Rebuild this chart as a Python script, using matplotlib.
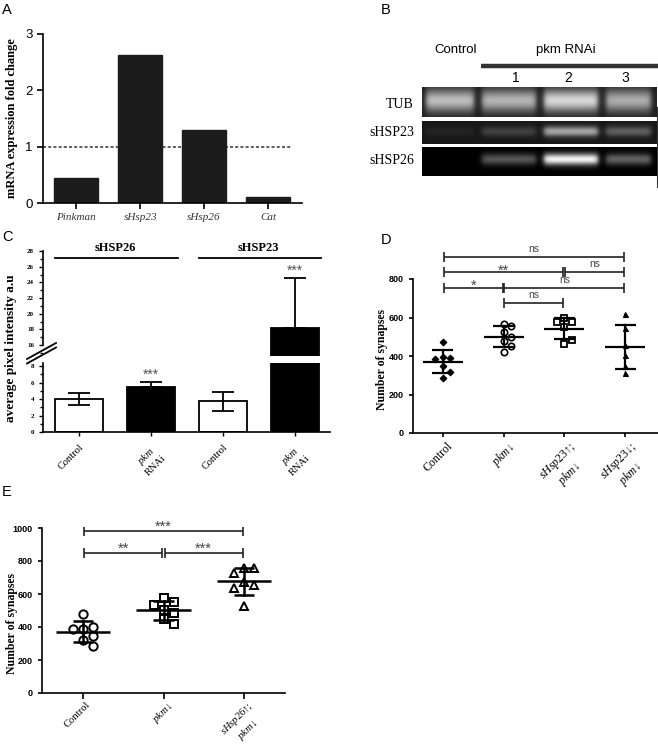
import numpy as np
import matplotlib
matplotlib.use("Agg")
import matplotlib.pyplot as plt
import matplotlib.transforms as mtransforms
from matplotlib.ticker import MultipleLocator

plt.rcParams['font.family'] = ['Liberation Sans', 'DejaVu Sans']
plt.rcParams['mathtext.fontset'] = 'custom'
plt.rcParams['mathtext.rm'] = 'Liberation Serif'
plt.rcParams['mathtext.it'] = 'Liberation Serif:italic'
plt.rcParams['mathtext.bf'] = 'Liberation Serif:bold'
plt.rcParams['axes.linewidth'] = 1.2

SERIF = ['Liberation Serif', 'DejaVu Serif']
W, H = 658, 747

# ---------------- data ----------------
# Panel A
a_genes = ['Pinkman', 'sHsp23', 'sHsp26', 'Cat']
a_fold = [0.45, 2.63, 1.30, 0.10]
a_baseline = 1.0

# Panel B (band intensities per lane, read from gel)
b_lanes = ['Control', '1', '2', '3']
b_rows = ['TUB', 'sHSP23', 'sHSP26']
b_tub = [0.62, 0.58, 0.72, 0.55]
b_hsp23 = [0.05, 0.16, 0.55, 0.28]
b_hsp26 = [0.00, 0.33, 0.95, 0.38]

# Panel C
c_proteins = ['sHSP26', 'sHSP23']
c_labels = ['Control', '$\\mathit{pkm}$\nRNAi', 'Control', '$\\mathit{pkm}$\nRNAi']
c_mean = [4.0, 5.5, 3.75, 18.2]
c_sd = [0.75, 0.6, 1.15, 6.4]
c_stars = ['', '***', '', '***']

# Panel D
d_labels = ['Control', '$\\mathit{pkm}$↓', '$\\mathit{sHsp23}$↑;\n$\\mathit{pkm}$↓',
            '$\\mathit{sHsp23}$↓;\n$\\mathit{pkm}$↓']
d_control = [473, 395, 388, 386, 348, 317, 286]
d_pkm = [566, 556, 526, 499, 478, 453, 421]
d_hsp23_up = [595, 578, 578, 552, 462, 483]
d_hsp23_down = [616, 545, 455, 405, 350, 311]
d_comp_pairs = [(1, 2), (0, 1), (1, 3), (0, 2), (2, 3), (0, 3)]
d_comp_text = ['ns', '*', 'ns', '**', 'ns', 'ns']

# Panel E
e_labels = ['Control', '$\\mathit{pkm}$↓', '$\\mathit{sHsp26}$↑;\n$\\mathit{pkm}$↓']
e_control = [477, 386, 401, 386, 345, 320, 284]
e_pkm = [574, 553, 533, 503, 483, 448, 416]
e_hsp26_up = [760, 755, 728, 672, 655, 638, 525]
e_comp_pairs = [(0, 1), (1, 2), (0, 2)]
e_comp_text = ['**', '***', '***']

# ---------------- helpers ----------------
fig = plt.figure(figsize=(W / 100, H / 100), dpi=100)
fig.patch.set_facecolor('white')


def px_axes(l, t, r, b):
    ax = fig.add_axes([l / W, 1 - b / H, (r - l) / W, (b - t) / H])
    ax.patch.set_alpha(0)
    return ax


def style_axes(ax):
    for s in ('top', 'right'):
        ax.spines[s].set_visible(False)
    ax.tick_params(direction='out', width=1.2)


def swarm_offsets(vals, xpx, ypx, step_px, diam_px):
    placed, offs = [], []
    for v in vals:
        dx = 0
        for k in (0, 1, -1, 2, -2, 3, -3):
            dx = k * step_px
            if all((dx - pdx) ** 2 + ((v - pv) * ypx) ** 2 >= diam_px ** 2 for pdx, pv in placed):
                break
        placed.append((dx, v))
        offs.append(dx / xpx)
    return np.array(offs)


def draw_group(ax, i, vals, marker, ms, mew, filled, mean_hw, cap_hw, lw, xpx, ypx, step_px, diam_px):
    vals = np.asarray(vals, float)
    m, s = vals.mean(), vals.std(ddof=1)
    offs = swarm_offsets(vals, xpx, ypx, step_px, diam_px)
    ax.plot(i + offs, vals, ls='none', marker=marker, ms=ms,
            mfc='black' if filled else 'none', mec='black', mew=mew, zorder=3, clip_on=False)
    ax.plot([i - mean_hw, i + mean_hw], [m, m], color='black', lw=lw, zorder=2, solid_capstyle='butt')
    ax.plot([i, i], [m - s, m + s], color='black', lw=lw, zorder=2)
    for y in (m - s, m + s):
        ax.plot([i - cap_hw, i + cap_hw], [y, y], color='black', lw=lw, zorder=2, solid_capstyle='butt')


def bracket(ax, i, j, y, h, text, fs_ns, fs_star, off_ns, off_star):
    g = 0.015
    x0, x1 = i + g, j - g
    kw = dict(color='#222', lw=1.2, clip_on=False, solid_capstyle='butt')
    ax.plot([x0, x1], [y, y], **kw)
    ax.plot([x0, x0], [y - h, y + h], **kw)
    ax.plot([x1, x1], [y - h, y + h], **kw)
    isns = text == 'ns'
    ax.annotate(text, ((i + j) / 2, y), xytext=(0, off_ns if isns else off_star),
                textcoords='offset points', ha='center', va='bottom',
                fontsize=fs_ns if isns else fs_star, color='#444', annotation_clip=False)


def rot_labels(ax, labels, fs, pad, shift_px=0.0):
    ax.set_xticks(range(len(labels)))
    ax.set_xticklabels(labels, rotation=45, ha='right', va='top', rotation_mode='anchor',
                       multialignment='center', fontsize=fs, family=SERIF)
    ax.tick_params(axis='x', pad=pad)
    if shift_px:
        off = mtransforms.ScaledTranslation(shift_px / 100, 0, fig.dpi_scale_trans)
        for lab in ax.get_xticklabels():
            lab.set_transform(lab.get_transform() + off)


# ---------------- Panel A ----------------
axA = px_axes(43, 34, 302, 203)
style_axes(axA)
xa = np.arange(len(a_genes))
axA.bar(xa, a_fold, width=0.69, color='#1c1c1c', edgecolor='#1c1c1c', zorder=2)
axA.set_xlim(-0.52, 3.53)
axA.set_ylim(0, 3)
axA.axhline(a_baseline, xmin=0, xmax=(292 - 43) / (302 - 43), color='#333', lw=1.1,
            ls=(0, (2, 1.4)), zorder=1)
axA.set_yticks([0, 1, 2, 3])
axA.set_xticks(xa)
axA.set_xticklabels(a_genes, family=SERIF, style='italic', fontsize=8, color='#333')
axA.tick_params(axis='y', labelsize=9.5, length=4)
axA.tick_params(axis='x', length=4, pad=3)

# ---------------- Panel C ----------------
axC1 = px_axes(43, 363, 330, 432)
axC2 = px_axes(43, 251, 330, 356)
xc = np.arange(len(c_mean))
fills = ['white', 'black', 'white', 'black']
for ax in (axC1, axC2):
    for i in xc:
        black = fills[i] == 'black'
        ax.bar(i, c_mean[i], width=0.67, color=fills[i], edgecolor='black', lw=1.3,
               zorder=3 if black else 1)
        ax.errorbar(i, c_mean[i], yerr=[[0 if black else c_sd[i]], [c_sd[i]]], color='black',
                    lw=1.3, capsize=8, capthick=1.3, zorder=2)
    ax.set_xlim(-0.5, 3.49)
    ax.tick_params(direction='out', width=1.0, length=3, labelsize=5)
    ax.yaxis.set_minor_locator(MultipleLocator(1))
    ax.tick_params(which='minor', length=2, width=1.0)

axC1.set_ylim(0, 8.4)
axC1.set_yticks([0, 2, 4, 6, 8])
for s in ('top', 'right'):
    axC1.spines[s].set_visible(False)
axC2.set_ylim(14.6, 28)
axC2.set_yticks(range(16, 29, 2))
for s in ('top', 'right', 'bottom'):
    axC2.spines[s].set_visible(False)
axC2.spines['left'].set_bounds(16, 28)
axC2.set_xticks([])
for ax in (axC1, axC2):
    for lab in ax.get_yticklabels():
        lab.set_family(SERIF)
        lab.set_weight('bold')
        lab.set_fontsize(5)
rot_labels(axC1, c_labels, 7.5, 5)

for i in xc:
    if c_stars[i]:
        top = c_mean[i] + c_sd[i]
        ax = axC2 if top > 8.4 else axC1
        ax.annotate(c_stars[i], (i, top), xytext=(0, 0), textcoords='offset points',
                    ha='center', va='bottom', fontsize=10, color='#555', annotation_clip=False)

# headers over groups
for k, name in enumerate(c_proteins):
    g0, g1 = 2 * k, 2 * k + 1
    axC2.plot([g0 - 0.33, g1 + 0.37], [27.1, 27.1], color='black', lw=1.3, clip_on=False)
    axC2.text((g0 + g1) / 2, 28.35, name, ha='center', va='center', fontsize=9,
              family=SERIF, weight='bold', clip_on=False)

# ---------------- Panel D ----------------
axD = px_axes(413, 279, 658, 433)
style_axes(axD)
axD.set_xlim(-0.49, 3.54)
axD.set_ylim(0, 800)
axD.set_yticks(range(0, 801, 200))
d_xpx = (658 - 413) / (3.54 + 0.49)
d_ypx = (433 - 279) / 800
d_groups = [d_control, d_pkm, d_hsp23_up, d_hsp23_down]
d_marks = [('D', 3.4, 0.8, True), ('o', 4.6, 1.2, False), ('s', 5.0, 1.3, False), ('^', 3.6, 0.8, True)]
for i, (vals, (mk, ms, mew, fl)) in enumerate(zip(d_groups, d_marks)):
    draw_group(axD, i, vals, mk, ms, mew, fl, 0.33, 0.17, 1.6, d_xpx, d_ypx, 7.7, 6.5)
d_levels = [0, 1, 1, 2, 2, 3]
for (i, j), txt, lv in zip(d_comp_pairs, d_comp_text, d_levels):
    bracket(axD, i, j, 675 + 80 * lv, 26, txt, 7.5, 10.5, 2.0, -4.0)
axD.tick_params(axis='y', length=3, labelsize=6.5)
for lab in axD.get_yticklabels():
    lab.set_weight('bold')
axD.tick_params(axis='x', length=3)
rot_labels(axD, d_labels, 8.5, 2, shift_px=4)

# ---------------- Panel E ----------------
axE = px_axes(42, 528, 285, 693)
style_axes(axE)
axE.set_xlim(-0.51, 2.51)
axE.set_ylim(0, 1000)
axE.set_yticks(range(0, 1001, 200))
e_xpx = (285 - 42) / (2.51 + 0.51)
e_ypx = (693 - 528) / 1000
e_groups = [e_control, e_pkm, e_hsp26_up]
e_marks = [('o', 6.0, 1.4, False), ('s', 6.0, 1.4, False), ('^', 6.0, 1.4, False)]
for i, (vals, (mk, ms, mew, fl)) in enumerate(zip(e_groups, e_marks)):
    draw_group(axE, i, vals, mk, ms, mew, fl, 0.34, 0.125, 1.8, e_xpx, e_ypx, 10.0, 8.0)
e_levels = [0, 0, 1]
for (i, j), txt, lv in zip(e_comp_pairs, e_comp_text, e_levels):
    bracket(axE, i, j, 848 + 131 * lv, 30, txt, 8, 10.5, 2.0, -2.0)
axE.tick_params(axis='y', length=3, labelsize=6.5)
for lab in axE.get_yticklabels():
    lab.set_weight('bold')
axE.tick_params(axis='x', length=4)
rot_labels(axE, e_labels, 7.6, 1, shift_px=3)

# ---------------- overlay (letters, labels, gel) ----------------
ov = fig.add_axes([0, 0, 1, 1])
ov.set_xlim(0, W)
ov.set_ylim(H, 0)
ov.axis('off')
ov.patch.set_alpha(0)

for letter, (x, y) in zip('ABCDE', [(2, 3), (381, 3), (2, 230), (381, 233), (2, 485)]):
    ov.text(x, y, letter, fontsize=10.5, ha='left', va='top')

ov.text(12, 118, 'mRNA expression fold change', rotation=90, ha='center', va='center',
        family=SERIF, weight='bold', fontsize=9)
ov.text(11, 348, 'average pixel intensity a.u', rotation=90, ha='center', va='center',
        family=SERIF, weight='bold', fontsize=9.5)
ov.text(382, 360, 'Number of synapses', rotation=90, ha='center', va='center',
        family=SERIF, weight='bold', fontsize=8.5)
ov.text(12, 623, 'Number of synapses', rotation=90, ha='center', va='center',
        family=SERIF, weight='bold', fontsize=8.5)

# axis break marks in C
for dy in (0, 4.5):
    ov.plot([27, 56], [359 + dy, 343 + dy], color='black', lw=1.3)

# gel
lane_edges = [422, 478, 540, 602, 655]
gx0, gx1 = 422, 657


def gel_strip(levels, h, cfrac, sfrac, bg):
    xs = np.arange(gx0, gx1) + 0.5
    ys = np.arange(h) + 0.5
    img = np.full((h, gx1 - gx0), bg, dtype=float)
    for k, lev in enumerate(levels):
        l, r = lane_edges[k] + 4, lane_edges[k + 1] - 4
        hx = 0.5 * (np.tanh((xs - l) / 3.0) - np.tanh((xs - r) / 3.0))
        vy = np.exp(-0.5 * ((ys - cfrac * h) / (sfrac * h)) ** 2)
        img += lev * np.outer(vy, hx)
    return np.clip(img, 0, 1)


strips = [(b_tub, 87, 117, 0.45, 0.26, 0.12),
          (b_hsp23, 121, 144, 0.45, 0.16, 0.09),
          (b_hsp26, 147, 176, 0.42, 0.14, 0.0)]
for levels, yt, yb, cf, sf, bg in strips:
    img = gel_strip(levels, yb - yt, cf, sf, bg)
    ov.imshow(img, cmap='gray', vmin=0, vmax=1, extent=(gx0, gx1, yb, yt),
              aspect='auto', interpolation='bilinear')
ov.set_xlim(0, W)
ov.set_ylim(H, 0)
ov.plot([657, 657], [107, 187], color='#333', lw=0.8)

for name, y in zip(b_rows, [104, 132, 160]):
    ov.text(414, y, name, ha='right', va='center', family=SERIF, fontsize=10)
ov.text(456, 50, b_lanes[0], ha='center', va='center', fontsize=9.5)
ov.text(566, 50, 'pkm RNAi', ha='center', va='center', fontsize=9.5)
ov.plot([481, 658], [65.5, 65.5], color='#333', lw=3.2, solid_capstyle='butt')
for lab, x in zip(b_lanes[1:], [516, 568, 625]):
    ov.text(x, 78, lab, ha='center', va='center', fontsize=10)

fig.savefig('out.png', dpi=100)
